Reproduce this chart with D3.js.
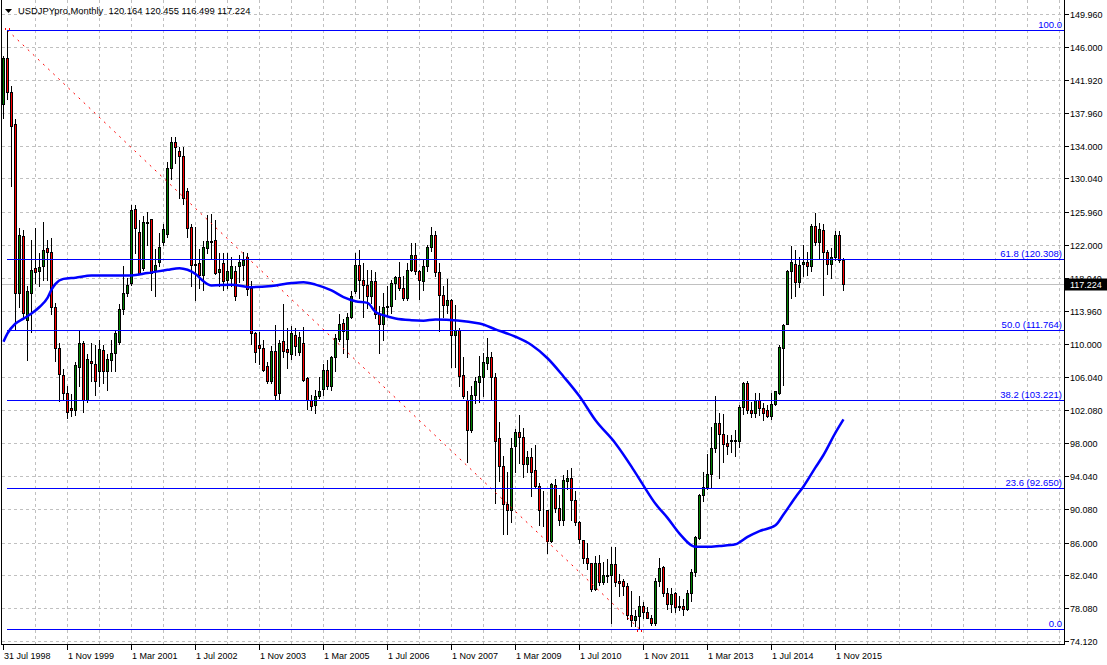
<!DOCTYPE html>
<html><head><meta charset="utf-8">
<script src="https://cdn.jsdelivr.net/npm/d3@7"></script>
<style>
html,body{margin:0;padding:0;background:#fff;}
svg{display:block;font-family:"Liberation Sans",Arial,sans-serif;}
</style></head><body>
<svg id="c" width="1107" height="665"></svg>
<script>
// ---------- DATA ----------
const chartTitle = "USDJPYpro,Monthly";
const lastQuote = [120.164, 120.455, 116.499, 117.224];
const currentPrice = 117.224;

// Monthly candles, Jul 1998 .. Jan 2016 (bar index 0..210)
const openV = [
139.1,144.6,140.5,136.6,116.2,123.1,112.9,116.2,119.2,118.8,
119.4,121.6,121.1,114.5,109.5,106.3,104.1,102.3,102.1,107.3,
110.2,103.3,108.0,107.6,106.7,109.3,106.7,108.1,108.9,110.3,
114.2,116.2,117.4,126.3,123.6,119.2,124.8,125.1,119.0,119.9,
122.4,123.3,131.3,134.5,133.4,132.8,128.5,124.2,119.7,119.8,
118.4,121.6,122.4,122.6,118.7,119.8,117.8,118.0,118.9,119.5,
119.6,120.5,116.8,111.4,109.9,109.6,107.4,105.5,109.2,104.1,
110.4,109.4,108.8,111.1,109.1,110.1,105.9,103.3,102.7,103.7,
104.6,106.9,104.9,108.4,110.6,112.6,110.6,113.3,116.4,119.6,
117.8,117.2,115.8,117.7,113.7,112.5,114.5,114.6,117.4,118.1,
116.8,115.6,119.0,120.8,118.8,117.7,119.5,121.8,123.2,118.7,
116.0,114.8,115.4,111.1,111.7,106.3,103.3,99.6,103.8,105.4,
106.0,107.7,108.5,106.0,98.6,95.3,90.7,89.9,97.7,99.4,
98.8,95.5,96.3,94.8,92.8,90.0,90.0,86.2,93.0,90.2,
88.8,93.5,93.8,91.2,88.5,86.3,84.1,83.5,80.4,83.6,
81.2,82.1,82.1,83.4,81.4,81.4,80.8,77.3,76.7,77.1,
78.35,77.6,76.9,76.3,81.4,83.1,79.9,78.6,79.9,78.2,
78.4,78.0,79.9,82.4,86.6,91.8,92.7,94.3,97.4,100.5,
99.2,98.1,98.3,98.3,98.3,102.4,105.3,102.1,101.7,103.3,
102.3,102.0,101.3,102.8,104.1,109.6,112.5,118.9,119.7,117.5,
119.7,120.0,119.5,124.3,122.3,123.8,121.2,119.7,120.5,123.2,
120.164];
const highV = [
144.8,147.96,141.2,137.2,124.0,123.8,117.0,122.6,124.0,121.0,
124.8,122.6,122.8,115.0,110.2,107.0,105.0,104.0,107.8,111.7,
110.4,108.8,110.2,109.9,110.5,109.9,108.8,110.5,111.7,114.9,
119.5,118.0,126.8,126.8,125.0,125.5,126.0,125.2,121.5,123.5,
124.5,132.0,135.1,135.0,133.9,133.9,128.9,124.5,124.2,121.5,
122.5,125.6,125.7,125.0,121.0,121.0,121.0,120.5,119.5,120.8,
121.2,121.0,117.6,111.5,111.5,110.5,107.8,109.8,112.3,110.5,
114.9,111.9,112.2,112.0,111.5,112.1,106.0,103.9,104.5,106.0,
107.6,108.1,108.6,111.2,113.7,113.0,113.8,116.4,121.0,121.4,
119.8,119.0,119.0,118.7,114.6,116.2,117.0,117.8,118.3,119.9,
118.2,119.8,122.2,122.2,119.0,120.2,122.0,124.2,123.7,119.8,
117.0,117.9,115.5,114.7,112.0,108.5,104.3,105.0,106.0,108.6,
108.9,110.7,109.1,106.5,100.6,96.5,94.6,98.6,99.8,101.4,
99.9,97.1,97.5,97.8,93.2,92.2,90.0,93.2,93.7,91.8,
94.2,94.8,95.0,92.3,88.6,86.3,86.0,83.6,84.4,84.5,
83.7,84.0,85.5,85.5,82.2,81.6,81.1,80.2,77.9,79.5,
78.8,78.2,77.3,81.7,84.1,83.2,80.5,80.5,80.0,79.6,
79.2,80.3,82.8,86.8,91.9,94.6,96.7,100.0,103.7,101.7,
101.5,99.0,99.0,99.6,102.6,105.4,105.5,103.0,104.1,104.1,
102.9,102.6,104.1,104.4,109.9,112.5,119.0,121.9,121.4,120.5,
122.0,121.2,124.5,125.9,124.6,124.5,121.4,121.6,123.7,123.7,
120.455];
const lowV = [
137.4,139.6,129.1,111.7,114.5,113.0,108.1,111.5,117.4,117.0,
117.8,117.8,113.7,108.0,103.1,103.3,101.1,101.3,101.4,105.0,
101.8,103.0,105.5,103.9,105.0,105.3,104.5,106.7,106.7,110.0,
113.7,115.8,117.2,121.0,118.5,119.0,122.0,116.5,115.8,119.5,
122.0,123.0,130.0,131.9,127.7,127.0,123.0,117.0,115.4,116.8,
116.5,121.0,120.4,118.5,117.0,116.5,116.8,117.0,115.4,117.5,
117.8,116.0,110.0,107.9,107.6,106.8,105.3,105.3,103.3,103.3,
108.5,107.1,108.2,108.7,108.7,105.5,102.2,102.0,101.7,103.5,
103.8,104.6,104.5,106.8,110.4,108.9,108.5,113.2,116.2,115.6,
113.3,114.4,115.0,113.2,108.9,110.5,113.5,113.8,115.5,116.6,
115.3,115.3,118.8,118.5,115.5,116.5,118.9,121.3,118.2,111.6,
113.3,113.8,107.3,107.3,104.9,103.5,95.7,99.4,102.9,103.0,
103.7,107.0,103.3,90.8,93.5,87.1,87.1,88.5,94.6,95.6,
94.0,94.5,91.6,92.6,88.1,88.0,84.8,86.1,89.7,88.1,
88.1,92.5,88.8,88.1,86.0,83.6,82.8,80.2,80.3,80.9,
81.0,81.2,76.3,80.7,79.6,79.7,76.8,75.9,75.9,75.57,
76.9,76.9,76.05,76.05,80.7,79.6,78.0,77.6,77.6,77.8,
77.2,77.8,79.0,82.0,86.5,91.0,92.5,92.6,97.0,93.8,
95.8,96.7,97.0,96.5,97.6,101.6,101.7,101.2,101.2,101.4,
100.8,101.2,101.0,102.7,104.0,105.1,112.4,115.6,115.8,116.9,
118.3,118.4,118.9,122.0,120.3,116.0,118.5,118.0,120.2,119.9,
116.499];
const closeV = [
144.6,140.5,136.4,116.2,123.2,113.8,116.4,119.0,118.7,119.3,
121.4,121.1,114.5,109.5,106.4,104.1,101.8,102.0,107.5,110.2,
103.3,108.2,107.7,105.5,109.4,106.7,108.2,108.9,111.3,114.2,
116.2,117.2,126.2,124.0,118.6,124.8,124.6,118.6,119.6,121.8,
123.9,131.3,134.5,133.9,132.7,127.7,124.0,119.6,119.6,118.4,
121.8,122.5,122.5,118.6,119.1,117.7,118.9,119.5,115.8,120.0,
120.2,116.7,111.4,109.0,109.6,106.9,105.6,109.2,103.8,110.1,
109.2,109.0,111.4,109.8,110.9,105.7,103.3,102.5,103.7,104.4,
106.9,104.9,108.4,110.8,112.5,111.6,113.3,115.8,119.6,117.8,
117.2,115.8,117.7,113.7,112.5,114.5,114.6,117.4,118.1,116.8,
115.6,119.0,120.8,118.8,117.8,119.5,121.8,123.2,118.7,116.0,
114.8,115.4,111.1,111.7,106.2,103.7,99.6,103.9,105.6,106.1,
107.8,108.5,106.0,98.3,95.3,90.7,89.9,97.5,99.4,98.8,
95.5,96.3,94.6,92.8,89.9,90.0,86.2,93.1,90.2,88.8,
93.6,93.8,91.2,88.5,86.4,84.1,83.5,80.4,83.6,81.2,
82.1,82.0,83.4,81.2,81.1,80.7,77.3,76.7,77.1,78.3,
77.6,76.9,76.3,81.4,82.9,79.9,78.6,79.8,78.2,78.4,
78.0,79.9,82.4,86.7,91.8,92.7,94.3,97.4,100.5,99.2,
97.9,97.7,98.4,98.4,102.4,105.3,102.0,101.7,103.3,102.3,
101.7,101.3,102.8,104.3,109.7,112.3,118.9,119.9,117.5,119.6,
120.0,119.4,124.3,122.3,123.9,121.1,119.7,120.5,123.2,120.2,
117.224];

// Blue moving average, sampled at bar indices
const maIndex = [0,1,3,5,7,9,11,12,13,15,18,22,27,31,36,41,44,46,48,50,52,57,62,67,72,75,78,82,85,88,91,93,95,98,102,105,108,119,123,128,132,136,140,144,148,153,157,160,163,166,169,173,176,179,183,186,189,193,195,198,200,203,205,208,210];
const maValue = [110.3,111.3,112.5,113.1,113.7,114.5,115.6,116.6,117.3,117.9,118.05,118.3,118.3,118.3,118.6,119.0,119.2,119.0,118.5,117.6,117.1,117.2,116.9,117.05,117.4,117.5,117.2,116.5,115.7,115.2,115.0,113.9,113.5,113.1,112.9,112.85,113.0,112.5,111.8,110.9,109.9,108.3,106.1,103.7,100.8,98.0,95.2,92.9,90.7,89.0,87.1,85.5,85.5,85.6,85.8,86.7,87.4,88.1,89.4,91.5,92.8,95.1,96.6,99.3,100.9];

// Fibonacci retracement
const fibLevels = ["100.0","61.8","50.0","38.2","23.6","0.0"];
const fibPrices = [147.96,120.308,111.764,103.221,92.650,75.56];
const fibFrom = {index:1, price:147.96};
const fibTo = {index:159, price:75.56};

// Axis tick labels
const yTickValues = [149.960,146.000,141.920,137.960,134.000,130.040,125.960,122.000,118.040,113.960,110.000,106.040,102.080,98.000,94.040,90.080,86.000,82.040,78.080,74.120];
const xTickIndex = [0,16,32,48,64,80,96,112,128,144,160,176,192,208];
const xTickLabels = ["31 Jul 1998","1 Nov 1999","1 Mar 2001","1 Jul 2002","1 Nov 2003","1 Mar 2005","1 Jul 2006","1 Nov 2007","1 Mar 2009","1 Jul 2010","1 Nov 2011","1 Mar 2013","1 Jul 2014","1 Nov 2015"];

// ---------- DRAW ----------
const W = 1107, H = 665;
const plotRight = 1064.5, plotBottom = 644.5;
const svg = d3.select("#c");
const x = d3.scaleLinear().domain([0, 1]).range([3.5, 7.5]);
const y = d3.scaleLinear().domain([75.56, 147.96]).range([629, 30.3]);
const n = Math.min(openV.length, highV.length, lowV.length, closeV.length);
const bars = d3.range(n).map(i => ({i, o:openV[i], h:highV[i], l:lowV[i], c:closeV[i]}));
const grid = "#c0c0c0";

svg.append("rect").attr("width", W).attr("height", H).attr("fill", "#fff");

// grid
const g = svg.append("g").attr("shape-rendering", "crispEdges");
const vGrid = d3.range(1, 40).map(k => k * 8).filter(i => x(i) < plotRight - 2);
g.selectAll(".vg").data(vGrid).join("line")
  .attr("x1", d => Math.floor(x(d)) + 0.5).attr("x2", d => Math.floor(x(d)) + 0.5)
  .attr("y1", 0).attr("y2", plotBottom)
  .attr("stroke", grid).attr("stroke-dasharray", "3,3");
g.selectAll(".hg").data(yTickValues).join("line")
  .attr("x1", 2).attr("x2", plotRight)
  .attr("y1", d => Math.round(y(d)) + 0.5).attr("y2", d => Math.round(y(d)) + 0.5)
  .attr("stroke", grid).attr("stroke-dasharray", "3,3");

// current price line
g.append("line").attr("x1", 2).attr("x2", plotRight)
  .attr("y1", Math.round(y(currentPrice)) + 0.5).attr("y2", Math.round(y(currentPrice)) + 0.5)
  .attr("stroke", "#c0c0c0");

// candles
const cg = svg.append("g").attr("shape-rendering", "crispEdges");
cg.selectAll(".wick").data(bars).join("line")
  .attr("x1", d => Math.floor(x(d.i)) + 0.5).attr("x2", d => Math.floor(x(d.i)) + 0.5)
  .attr("y1", d => Math.round(y(d.h))).attr("y2", d => Math.round(y(d.l)) + 1)
  .attr("stroke", "#000");
cg.selectAll(".body").data(bars).join("rect")
  .attr("x", d => Math.floor(x(d.i)) - 0.5)
  .attr("width", 2)
  .attr("y", d => Math.round(y(Math.max(d.o, d.c))) + 0.5)
  .attr("height", d => Math.max(0, Math.round(y(Math.min(d.o, d.c))) - Math.round(y(Math.max(d.o, d.c)))))
  .attr("fill", d => d.c >= d.o ? "#008000" : "#ff0000")
  .attr("stroke", "#000");

// fib trend line (red dashed)
svg.append("line")
  .attr("x1", x(fibFrom.index)).attr("y1", y(fibFrom.price))
  .attr("x2", x(fibTo.index)).attr("y2", y(fibTo.price))
  .attr("stroke", "#ff0000").attr("stroke-width", 1).attr("stroke-dasharray", "2,5");
// small anchor marks at both ends
[[fibFrom.index, fibFrom.price, -1], [fibTo.index, fibTo.price, 1]].forEach(([i, p, s]) => {
  svg.append("path")
    .attr("d", `M${Math.floor(x(i)) - 2},${Math.round(y(p)) + s * 2.5} L${Math.floor(x(i)) - 2},${Math.round(y(p))} M${Math.floor(x(i)) + 2},${Math.round(y(p))} L${Math.floor(x(i)) + 2},${Math.round(y(p)) + s * 2.5}`)
    .attr("stroke", "#ff0000").attr("fill", "none").attr("shape-rendering", "crispEdges");
});

// fib levels
const fg = svg.append("g");
fg.selectAll("line").data(fibPrices).join("line")
  .attr("shape-rendering", "crispEdges")
  .attr("x1", Math.floor(x(fibFrom.index))).attr("x2", plotRight)
  .attr("y1", d => Math.round(y(d)) + 0.5).attr("y2", d => Math.round(y(d)) + 0.5)
  .attr("stroke", "#0000ff");
fg.selectAll("text").data(fibPrices).join("text")
  .attr("x", 1062).attr("y", d => Math.round(y(d)) - 2.5)
  .attr("text-anchor", "end").attr("font-size", "9.5px").attr("fill", "#0000ff")
  .text((d, k) => (fibLevels[k] === "100.0" || fibLevels[k] === "0.0") ? fibLevels[k] : `${fibLevels[k]} (${d.toFixed(3)})`);

// moving average
const maPts = maIndex.map((d, k) => [x(d), y(maValue[k])]);
svg.append("path").attr("d", d3.line().curve(d3.curveMonotoneX)(maPts))
  .attr("fill", "none").attr("stroke", "#0000ff").attr("stroke-width", 2.5);

// axes frame
const ag = svg.append("g").attr("shape-rendering", "crispEdges");
ag.append("line").attr("x1", 1.5).attr("x2", 1.5).attr("y1", 0).attr("y2", plotBottom).attr("stroke", "#000");
ag.append("line").attr("x1", plotRight).attr("x2", plotRight).attr("y1", 0).attr("y2", plotBottom + 0.5).attr("stroke", "#000");
ag.append("line").attr("x1", 1).attr("x2", plotRight).attr("y1", plotBottom).attr("y2", plotBottom).attr("stroke", "#000");

// right axis
ag.selectAll(".yt").data(yTickValues).join("line")
  .attr("x1", plotRight).attr("x2", plotRight + 4)
  .attr("y1", d => Math.round(y(d)) + 0.5).attr("y2", d => Math.round(y(d)) + 0.5)
  .attr("stroke", "#000");
svg.selectAll(".ytl").data(yTickValues).join("text")
  .attr("x", 1070).attr("y", d => Math.round(y(d)) + 4)
  .attr("font-size", "9px").attr("fill", "#000")
  .text(d => d.toFixed(3));

// bottom axis
ag.selectAll(".xt").data(xTickIndex).join("line")
  .attr("x1", d => Math.floor(x(d)) + 0.5).attr("x2", d => Math.floor(x(d)) + 0.5)
  .attr("y1", plotBottom).attr("y2", plotBottom + 5)
  .attr("stroke", "#000");
svg.selectAll(".xtl").data(xTickIndex).join("text")
  .attr("x", d => Math.floor(x(d)) + 1).attr("y", 659)
  .attr("font-size", "9px").attr("fill", "#000")
  .text((d, k) => xTickLabels[k]);

// current price box
const py = Math.round(y(currentPrice));
svg.append("rect").attr("x", plotRight + 0.5).attr("y", py - 5.5).attr("width", W - plotRight).attr("height", 12).attr("fill", "#000");
svg.append("text").attr("x", 1070).attr("y", py + 4).attr("font-size", "9px").attr("fill", "#fff").text(currentPrice.toFixed(3));

// header
svg.append("path").attr("d", "M5,9 L12,9 L8.5,13 Z").attr("fill", "#000");
svg.append("text").attr("x", 18).attr("y", 14).attr("font-size", "9.4px").attr("fill", "#000")
  .attr("xml:space", "preserve").style("white-space", "pre")
  .text(chartTitle + "  " + lastQuote.map(v => v.toFixed(3)).join(" "));
</script>
</body></html>
